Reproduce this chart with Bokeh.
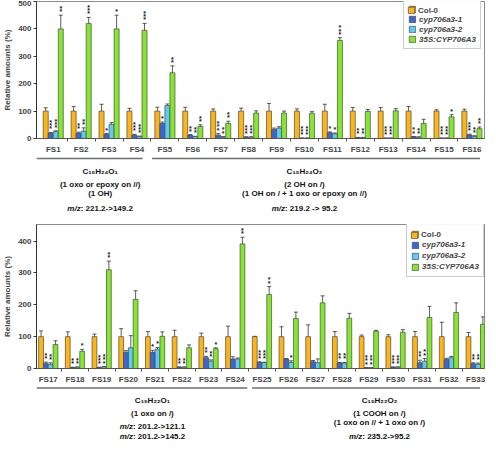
from bokeh.plotting import figure
from bokeh.models import (ColumnDataSource, Range1d, FixedTicker, Whisker, TeeHead,
                          Legend, LegendItem)
from bokeh.layouts import column
from bokeh.transform import dodge
from bokeh.core.properties import value
from bokeh.embed import file_html
from bokeh.resources import INLINE

FONT = "Liberation Sans"

series_names = ["Col-0", "cyp706a3-1", "cyp706a3-2", "35S:CYP706A3"]
series_colors = ["#FDB515", "#3A66D6", "#5CCBF2", "#86E62E"]

# ---------------- upper panel (FS1-FS16) ----------------
top_labels = ["FS1", "FS2", "FS3", "FS4", "FS5", "FS6", "FS7", "FS8",
              "FS9", "FS10", "FS11", "FS12", "FS13", "FS14", "FS15", "FS16"]
top_col = [100, 100, 100, 100, 100, 100, 100, 100, 100, 100, 100, 100, 100, 100, 100, 100]
top_col_err = [12, 17, 25, 10, 14, 14, 8, 11, 28, 8, 25, 13, 13, 17, 5, 7]
top_a1 = [19, 19, 15, 12, 55, 12, 12, 5, 33, 1, 21, 3, 1, 6, 1, 13]
top_a1_err = [3, 4, 3, 3, 5, 2, 6, 1, 5, 1, 3, 1, 1, 1, 1, 3]
top_a2 = [25, 27, 52, 7, 120, 7, 5, 5, 38, 1, 17, 3, 1, 5, 1, 8]
top_a2_err = [3, 12, 6, 2, 6, 1, 2, 1, 5, 1, 3, 1, 1, 1, 1, 2]
top_ox = [400, 420, 400, 395, 240, 44, 55, 93, 93, 92, 358, 99, 101, 55, 79, 36]
top_ox_err = [50, 22, 50, 25, 25, 6, 8, 8, 7, 6, 10, 7, 8, 15, 8, 6]
top_a1_stars = ["***", "**", "*", "***", "*", "**", "***", "***", "", "***", "*", "**", "***", "**", "***", "***"]
top_a2_stars = ["***", "**", "", "***", "", "**", "**", "***", "", "***", "*", "**", "***", "**", "***", "**"]
top_ox_stars = ["**", "***", "*", "***", "**", "**", "**", "", "", "", "***", "", "", "", "*", "**"]
top_yticks = [0, 100, 200, 300, 400, 500]

# ---------------- lower panel (FS17-FS33) ----------------
bot_labels = ["FS17", "FS18", "FS19", "FS20", "FS21", "FS22", "FS23", "FS24", "FS25",
              "FS26", "FS27", "FS28", "FS29", "FS30", "FS31", "FS32", "FS33"]
bot_col = [100, 100, 100, 100, 100, 100, 100, 100, 100, 100, 100, 100, 100, 100, 100, 100, 100]
bot_col_err = [18, 15, 8, 25, 16, 20, 11, 33, 1, 31, 37, 16, 5, 6, 16, 45, 13]
bot_a1 = [16, 3, 3, 51, 51, 4, 34, 30, 19, 30, 21, 17, 2, 4, 18, 28, 15]
bot_a1_err = [4, 1, 1, 5, 6, 1, 4, 7, 2, 1, 4, 2, 1, 1, 8, 4, 3]
bot_a2 = [13, 4, 5, 65, 61, 4, 23, 30, 18, 19, 18, 17, 2, 4, 23, 34, 13]
bot_a2_err = [5, 1, 1, 38, 5, 1, 4, 3, 2, 5, 12, 2, 1, 1, 8, 4, 4]
bot_ox = [75, 54, 310, 217, 101, 65, 62, 391, 232, 157, 206, 158, 117, 114, 160, 176, 139]
bot_ox_err = [12, 6, 27, 27, 14, 9, 3, 21, 25, 20, 22, 15, 3, 8, 35, 30, 23]
bot_a1_stars = ["**", "**", "***", "", "*", "**", "**", "", "***", "", "", "**", "***", "***", "**", "", "**"]
bot_a2_stars = ["**", "**", "***", "", "*", "**", "**", "", "***", "*", "", "**", "***", "***", "**", "", "**"]
bot_ox_stars = ["", "*", "**", "", "", "", "*", "**", "**", "", "", "", "", "", "", "", ""]
bot_yticks = [0, 100, 200, 300, 400]

# group annotations
top_groups = [
    dict(first="FS1", last="FS4", lines=["C\u2081\u2085H\u2082\u2084O\u2081", "(1 oxo or epoxy on //)", "(1 OH)"],
         mz=[": 221.2->149.2"]),
    dict(first="FS5", last="FS16", lines=["C\u2081\u2085H\u2082\u2084O\u2082", "(2 OH on /)", "(1 OH on / + 1 oxo or epoxy on //)"],
         mz=[": 219.2 -> 95.2"]),
]
bot_groups = [
    dict(first="FS17", last="FS24", lines=["C\u2081\u2085H\u2082\u2082O\u2081", "(1 oxo on /)"],
         mz=[": 201.2->121.1", ": 201.2->145.2"]),
    dict(first="FS25", last="FS33", lines=["C\u2081\u2085H\u2082\u2082O\u2082", "(1 COOH on /)", "(1 oxo on // + 1 oxo on /)"],
         mz=[": 235.2->95.2"]),
]

FRAME_W = 448
BL, BR = 31, 1
BW = 0.18


def style_text(r, size="8px", style="bold"):
    r.glyph.text_font = value(FONT)
    r.glyph.text_font_style = style
    r.glyph.text_font_size = size


def make_chart(labels, data, xr, ymax, yticks, frame_h, leg_x, row_h, top_gap):
    n = len(labels)
    p = figure(frame_width=FRAME_W, frame_height=frame_h, x_range=xr,
               y_range=Range1d(0, ymax), output_backend="svg", toolbar_location=None,
               min_border_left=BL, min_border_right=BR, min_border_top=1, min_border_bottom=0)
    p.xgrid.visible = False
    p.ygrid.visible = False
    p.outline_line_color = "#8c8c8c"
    p.outline_line_width = 1
    p.background_fill_color = "white"

    rends = []
    for k in range(4):
        vals, errs, stars = data[k]
        off = (k - 1.5) * BW
        stacked = ["\n".join(list(s)) for s in stars] if stars is not None else [""] * n
        src = ColumnDataSource(dict(
            i=list(range(n)), top=vals,
            lo=[max(0, v - e) for v, e in zip(vals, errs)],
            hi=[v + e for v, e in zip(vals, errs)],
            star=stacked))
        r = p.vbar(x=dodge("i", off), top="top", width=BW, source=src,
                   fill_color=series_colors[k], line_color="#4a4a4a", line_width=0.7)
        rends.append(r)
        wk = Whisker(source=src, base=dodge("i", off), upper="hi", lower="lo",
                     line_color="#333333", line_width=0.8,
                     upper_head=TeeHead(size=4, line_color="#333333", line_width=0.8),
                     lower_head=TeeHead(size=4, line_color="#333333", line_width=0.8))
        p.add_layout(wk)
        if stars is not None:
            t = p.text(x=dodge("i", off), y="hi", text="star", source=src,
                       text_align="center", text_baseline="bottom", y_offset=0,
                       text_color="#222222", text_line_height=0.45)
            style_text(t, "7px", "bold")

    # axes
    p.yaxis.ticker = FixedTicker(ticks=yticks)
    p.yaxis.axis_label = "Relative amounts (%)"
    p.yaxis.axis_label_text_font = FONT
    p.yaxis.axis_label_text_font_style = "bold"
    p.yaxis.axis_label_text_font_size = "8px"
    p.yaxis.axis_label_standoff = 3
    p.yaxis.major_label_text_font = FONT
    p.yaxis.major_label_text_font_style = "bold"
    p.yaxis.major_label_text_font_size = "8px"
    p.yaxis.major_label_standoff = 2
    p.yaxis.major_tick_out = 3
    p.yaxis.major_tick_in = 0
    p.yaxis.minor_tick_line_color = None
    p.yaxis.axis_line_color = "#333333"
    p.yaxis.major_tick_line_color = "#333333"

    p.xaxis.ticker = FixedTicker(ticks=list(range(n)),
                                 minor_ticks=[i + 0.5 for i in range(n - 1)])
    p.xaxis.major_label_overrides = {i: lab for i, lab in enumerate(labels)}
    p.xaxis.major_label_text_font = FONT
    p.xaxis.major_label_text_font_style = "bold"
    p.xaxis.major_label_text_font_size = "8px"
    p.xaxis.major_label_standoff = 3
    p.xaxis.major_tick_in = 0
    p.xaxis.major_tick_out = 0
    p.xaxis.minor_tick_in = 0
    p.xaxis.minor_tick_out = 3
    p.xaxis.axis_line_color = "#555555"
    p.xaxis.minor_tick_line_color = "#555555"

    # legend: bordered italic legend + upright overlay for Col-0
    pad = 4
    common = dict(label_text_font=FONT, label_text_font_size="8px",
                  glyph_height=8, glyph_width=8, label_height=row_h, label_standoff=3,
                  spacing=0, padding=pad, margin=0)
    h_all = 4 * row_h + 2 * pad
    h_one = row_h + 2 * pad
    leg_a = Legend(items=[LegendItem(label=" ", renderers=[rends[0]])] +
                   [LegendItem(label=series_names[k], renderers=[rends[k]]) for k in (1, 2, 3)],
                   location=(leg_x, frame_h - h_all - top_gap),
                   label_text_font_style="bold italic", border_line_color="#9a9a9a",
                   border_line_width=1, background_fill_color="white", **common)
    leg_b = Legend(items=[LegendItem(label=series_names[0], renderers=[rends[0]])],
                   location=(leg_x, frame_h - h_one - top_gap),
                   label_text_font_style="bold", border_line_alpha=0,
                   background_fill_alpha=0, **common)
    p.add_layout(leg_a)
    p.add_layout(leg_b)
    return p


def mz_width(s):
    w = {".": 278, ":": 333, " ": 278, "-": 333, ">": 584}
    return sum(w.get(c, 556) for c in s) * 8 / 1000.0


def make_annot(xr, labels, groups, h, line_y, text_ys, mz_ys, centers, spans):
    a = figure(frame_width=FRAME_W, frame_height=h, x_range=xr, y_range=Range1d(h, 0),
               output_backend="svg", toolbar_location=None,
               min_border_left=BL, min_border_right=BR, min_border_top=0, min_border_bottom=0)
    a.axis.visible = False
    a.grid.visible = False
    a.outline_line_color = None
    for g, c, (s0, s1) in zip(groups, centers, spans):
        i0 = labels.index(g["first"])
        i1 = labels.index(g["last"])
        a.segment(x0=[i0 + s0], y0=[line_y], x1=[i1 + s1], y1=[line_y],
                  line_color="#6e6e6e", line_width=1.6)
        xs = [c] * len(g["lines"])
        ys = text_ys[:len(g["lines"])]
        t = a.text(x=xs, y=ys, text=g["lines"], text_align="center",
                   text_baseline="middle", text_color="#111111")
        style_text(t)
        for j, rest in enumerate(g["mz"]):
            yy = mz_ys[-1] if len(g["mz"]) == 1 else mz_ys[j]
            off = (13.3 - mz_width(rest)) / 2.0
            t1 = a.text(x=[c], y=[yy], text=["m/z"], text_align="right",
                        text_baseline="middle", x_offset=off, text_color="#111111")
            style_text(t1, "8px", "bold italic")
            t2 = a.text(x=[c], y=[yy], text=[rest], text_align="left",
                        text_baseline="middle", x_offset=off, text_color="#111111")
            style_text(t2)
    return a


xr_top = Range1d(-0.6, len(top_labels) - 1 + 0.45)
xr_bot = Range1d(-0.44, len(bot_labels) - 1 + 0.33)

top_data = [(top_col, top_col_err, None), (top_a1, top_a1_err, top_a1_stars),
            (top_a2, top_a2_err, top_a2_stars), (top_ox, top_ox_err, top_ox_stars)]
bot_data = [(bot_col, bot_col_err, None), (bot_a1, bot_a1_err, bot_a1_stars),
            (bot_a2, bot_a2_err, bot_a2_stars), (bot_ox, bot_ox_err, bot_ox_stars)]

p1 = make_chart(top_labels, top_data, xr_top, 500, top_yticks, 137, 367, 10, 0)
a1 = make_annot(xr_top, top_labels, top_groups, 67, 2, [14.5, 28, 36.7], [52.2],
                [1.68, 9.0], [(-0.6, 0.2), (-0.46, 0.45)])
p2 = make_chart(bot_labels, bot_data, xr_bot, 452, bot_yticks, 144, 370, 11, 1)
a2 = make_annot(xr_bot, bot_labels, bot_groups, 56, 1.5, [14, 27.3, 36.4], [40.3, 49.5],
                [3.9, 12.4], [(-0.44, 0.45), (-0.37, 0.33)])

layout = column(p1, a1, p2, a2, spacing=0)
open("out.html", "w").write(file_html(layout, INLINE))
